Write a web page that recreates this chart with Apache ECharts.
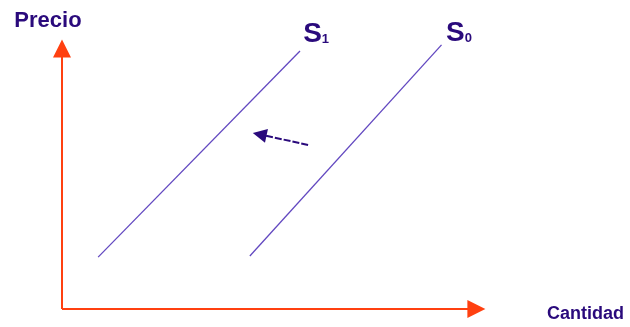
<!DOCTYPE html>
<html>
<head>
<meta charset="utf-8">
<script src="https://cdn.jsdelivr.net/npm/echarts@6/dist/echarts.min.js"></script>
<style>
  html, body { margin: 0; padding: 0; background: #fff; }
  #chart { width: 630px; height: 327px; }
</style>
</head>
<body>
<div id="chart"></div>
<script>
// diagram in a 0..100 by 0..100 space
const supplyS1 = [[8.5, 19.3], [56.0, 95.9]];
const supplyS0 = [[44.2, 19.7], [89.3, 98.2]];
const shiftArrow = [[57.9, 61.0], [46.5, 64.9]];
const axisX = [[0, 0], [97.5, 0]];
const axisY = [[0, 0], [0, 96.8]];

const labelNames = ['Precio', 'S1', 'S0', 'Cantidad'];
const labelPos = [[-3.3, 107.2], [59.8, 102.1], [93.4, 102.6], [123.2, -1.8]];

const textColor = '#2a0a7c';
const lineColor = '#6248c0';
const axisColor = '#ff4010';

const chart = echarts.init(document.getElementById('chart'));

function richFor(name) {
  if (name[0] === 'S') return '{s|S}{sub|' + name.slice(1) + '}';
  if (name === 'Precio') return '{w|' + name + '}';
  return '{c|' + name + '}';
}

chart.setOption({
  animation: false,
  grid: { left: 62, right: 143, top: 40, bottom: 18 },
  xAxis: { type: 'value', min: 0, max: 100, show: false },
  yAxis: { type: 'value', min: 0, max: 100, show: false },
  series: [
    {
      type: 'lines',
      coordinateSystem: 'cartesian2d',
      clip: false,
      symbol: ['none', 'triangle'],
      symbolSize: [15, 18],
      lineStyle: { color: axisColor, width: 2, opacity: 1, curveness: 0 },
      data: [{ coords: axisX }, { coords: axisY }]
    },
    {
      type: 'line',
      data: supplyS1,
      showSymbol: false,
      lineStyle: { color: lineColor, width: 1.3 },
      silent: true
    },
    {
      type: 'line',
      data: supplyS0,
      showSymbol: false,
      lineStyle: { color: lineColor, width: 1.3 },
      silent: true
    },
    {
      type: 'lines',
      coordinateSystem: 'cartesian2d',
      clip: false,
      symbol: ['none', 'triangle'],
      symbolSize: [12, 14],
      lineStyle: { color: textColor, width: 2, type: [7, 2], opacity: 1, curveness: 0 },
      data: [{ coords: shiftArrow }]
    },
    {
      type: 'scatter',
      clip: false,
      symbolSize: 0,
      silent: true,
      itemStyle: { opacity: 1 },
      data: labelNames.map((n, i) => ({ name: n, value: labelPos[i] })),
      label: {
        show: true,
        position: 'inside',
        opacity: 1,
        formatter: p => richFor(p.name),
        rich: {
          w: { fontFamily: 'Liberation Sans', fontWeight: 'bold', fontSize: 22, color: textColor },
          c: { fontFamily: 'Liberation Sans', fontWeight: 'bold', fontSize: 18, color: textColor },
          s: { fontFamily: 'Liberation Sans', fontWeight: 'bold', fontSize: 28, color: textColor, verticalAlign: 'bottom' },
          sub: { fontFamily: 'Liberation Sans', fontWeight: 'bold', fontSize: 13, color: textColor, verticalAlign: 'bottom', padding: [0, 0, 2, 0] }
        }
      }
    }
  ]
});
</script>
</body>
</html>
